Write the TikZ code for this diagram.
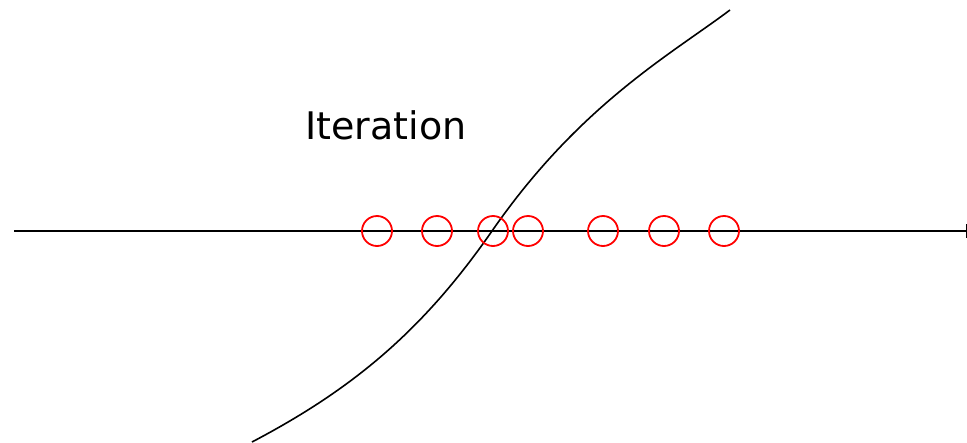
\documentclass[tikz,border=0pt]{standalone}
\usepackage{fontspec}
\setmainfont{DejaVu Sans}
\usetikzlibrary{arrows.meta}
\begin{document}
\begin{tikzpicture}[x=1pt,y=-1pt,
  mark circ/.style={circle,draw=red,line width=1.8pt,minimum size=30pt,inner sep=0pt},
  axisline/.style={line width=2.5pt,-{Bar[width=14pt,line width=1.5pt]}},
  curveline/.style={line width=1.6pt}]
\useasboundingbox (0,0) rectangle (967,442);
\coordinate (a0) at (14,231);
\coordinate (a1) at (967,231);
\draw[axisline] (a0) -- (a1);
\coordinate (c0) at (252,442);
\coordinate (cm) at (492,231);
\coordinate (c1) at (730,10);
\draw[curveline] (c0) .. controls (351,390) and (422,332) .. (cm)
  .. controls (579.5,105) and (670,55) .. (c1);
\foreach \n/\x in {1/377,2/437,3/493,4/528,5/603,6/664,7/724}
  \node[mark circ] (m\n) at (\x,231) {};
\node[font=\fontsize{38}{40}\selectfont,inner sep=0pt] (t) at (386,125) {Iteration};
\end{tikzpicture}
\end{document}
